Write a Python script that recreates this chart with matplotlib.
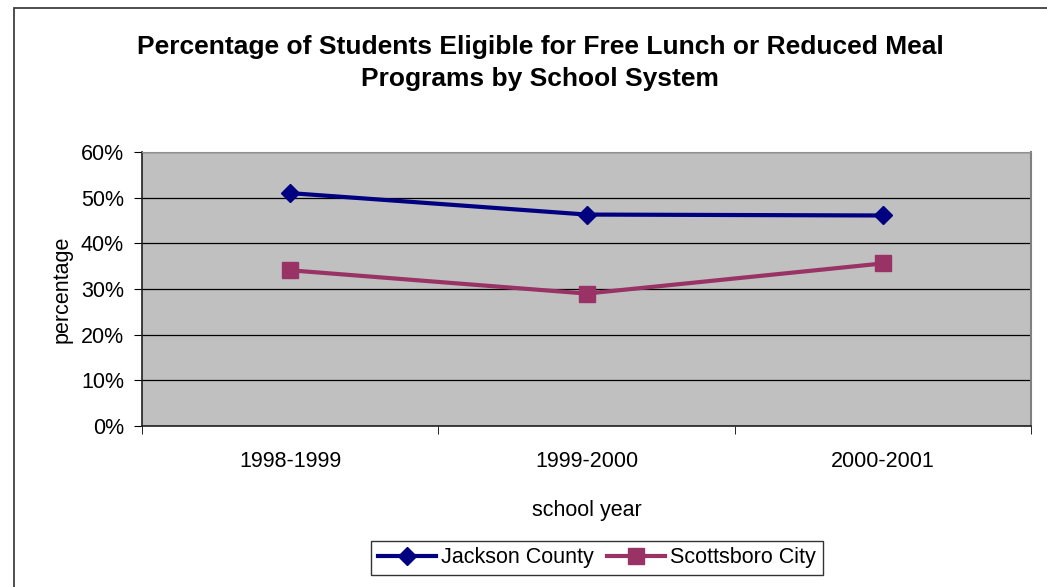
import numpy as np
import matplotlib
matplotlib.use("Agg")
import matplotlib.pyplot as plt
from matplotlib.patches import Rectangle
from matplotlib.ticker import FixedLocator, PercentFormatter

plt.rcParams['font.family'] = ['Liberation Sans', 'DejaVu Sans']

# data
years = ['1998-1999', '1999-2000', '2000-2001']
jackson = [51.0, 46.3, 46.1]
scottsboro = [34.1, 29.0, 35.6]

fig = plt.figure(figsize=(10.47, 5.87), dpi=100)
ax = fig.add_axes([142 / 1047, 1 - 426 / 587, (1031 - 142) / 1047, (426 - 152) / 587])

# outer chart frame (only left and top edges are visible in the image)
fig.patches.append(Rectangle((14 / 1047, -0.1), 1.2, 1 - 8 / 587 + 0.1,
                             transform=fig.transFigure, fill=False,
                             edgecolor='#404040', linewidth=1.3))

ax.set_facecolor('#c0c0c0')
x = np.arange(len(years))
ax.plot(x, jackson, color='#000080', marker='D', markersize=9.5, linewidth=3,
        label='Jackson County')
ax.plot(x, scottsboro, color='#993366', marker='s', markersize=11, linewidth=3,
        label='Scottsboro City')

ax.set_xlim(-0.5, 2.5)
ax.set_ylim(0, 60)
ax.set_yticks(np.arange(0, 61, 10))
ax.yaxis.set_major_formatter(PercentFormatter(decimals=0))
ax.grid(axis='y', color='black', linewidth=0.9)
ax.set_axisbelow(True)

ax.set_xticks(x)
ax.set_xticklabels(years)
ax.xaxis.set_minor_locator(FixedLocator([-0.5, 0.5, 1.5, 2.5]))
ax.tick_params(axis='x', which='major', length=0, pad=18, labelsize=15.5)
ax.tick_params(axis='x', which='minor', length=6, color='black')
ax.tick_params(axis='y', length=6, labelsize=15.5, pad=7)

for s in ['left', 'bottom']:
    ax.spines[s].set_color('#202020')
    ax.spines[s].set_linewidth(1.2)
ax.spines['top'].set_color('#909090')
ax.spines['right'].set_color('#808080')
ax.spines['right'].set_linewidth(1.5)

ax.set_xlabel('school year', fontsize=15.5, labelpad=20)
ax.set_ylabel('percentage', fontsize=15.5, labelpad=6)

fig.text(0.516, 1 - 63 / 587,
         'Percentage of Students Eligible for Free Lunch or Reduced Meal\nPrograms by School System',
         ha='center', va='center', fontsize=19, fontweight='bold', linespacing=1.38)

leg = fig.legend(loc='center', bbox_to_anchor=(597 / 1047, 1 - 558 / 587), ncol=2,
                 fontsize=15.5, frameon=True, fancybox=False, edgecolor='black',
                 handlelength=2.7, columnspacing=0.6, handletextpad=0.25,
                 borderpad=0.3, borderaxespad=0)
leg.get_frame().set_linewidth(1.0)

fig.savefig('out.png', dpi=100)
